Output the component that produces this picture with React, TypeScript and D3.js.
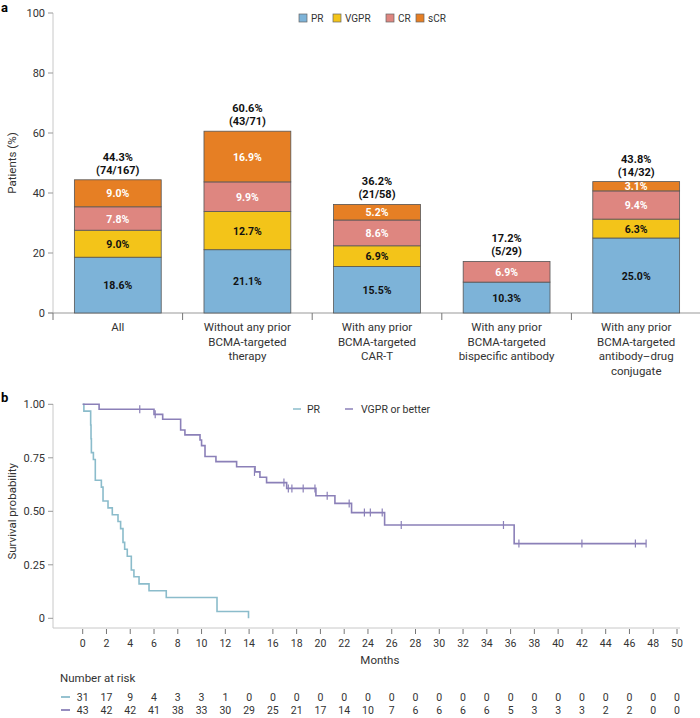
import React from "react";
import * as d3 from "d3";

// ---- panel a data ----
const groups = ["All", "NoPrior", "CART", "Bispecific", "ADC"];
const groupLabels = [
  ["All"],
  ["Without any prior", "BCMA-targeted", "therapy"],
  ["With any prior", "BCMA-targeted", "CAR-T"],
  ["With any prior", "BCMA-targeted", "bispecific antibody"],
  ["With any prior", "BCMA-targeted", "antibody–drug", "conjugate"],
];
const responses = ["PR", "VGPR", "CR", "sCR"];
const prValues = [18.6, 21.1, 15.5, 10.3, 25.0];
const vgprValues = [9.0, 12.7, 6.9, 0, 6.3];
const crValues = [7.8, 9.9, 8.6, 6.9, 9.4];
const scrValues = [9.0, 16.9, 5.2, 0, 3.1];
const totalPct = ["44.3%", "60.6%", "36.2%", "17.2%", "43.8%"];
const totalN = ["(74/167)", "(43/71)", "(21/58)", "(5/29)", "(14/32)"];
const yTicksA = [0, 20, 40, 60, 80, 100];

// ---- panel b data (time in months, survival after step) ----
const prSteps: [number, number][] = [
  [0, 1.0], [0.1, 0.968], [0.67, 0.903], [0.7, 0.839], [0.73, 0.774],
  [0.9, 0.742], [1.06, 0.645], [1.57, 0.613], [1.71, 0.548], [2.13, 0.516],
  [2.49, 0.484], [2.97, 0.452], [3.19, 0.419], [3.39, 0.355], [3.53, 0.323],
  [3.75, 0.29], [4.09, 0.226], [4.31, 0.194], [4.74, 0.161], [5.58, 0.129],
  [7.03, 0.097], [11.3, 0.032], [13.95, 0],
];
const vgprSteps: [number, number][] = [
  [0, 1.0], [1.38, 0.977], [6.0, 0.953], [6.73, 0.93], [8.24, 0.88],
  [8.6, 0.857], [9.87, 0.833], [10.0, 0.807], [10.29, 0.756], [11.21, 0.732],
  [12.95, 0.708], [14.5, 0.684], [14.91, 0.659], [15.47, 0.634], [17.16, 0.607],
  [19.62, 0.573], [21.22, 0.537], [22.62, 0.494], [25.4, 0.436], [36.3, 0.349],
  [47.4, 0.349],
];
const vgprCensored: [number, number][] = [
  [4.8, 0.977], [6.1, 0.953], [14.45, 0.684], [16.93, 0.634], [17.3, 0.607],
  [17.6, 0.607], [18.55, 0.607], [19.54, 0.607], [20.57, 0.573], [22.42, 0.537],
  [23.7, 0.494], [24.2, 0.494], [25.2, 0.494], [26.8, 0.436], [35.4, 0.436],
  [36.7, 0.349], [42.0, 0.349], [46.5, 0.349], [47.4, 0.349],
];
const monthTicks = d3.range(0, 51, 2);
const yTicksB = [0, 0.25, 0.5, 0.75, 1.0];
const riskPR = [31, 17, 9, 4, 3, 3, 1, 0, 0, 0, 0, 0, 0, 0, 0, 0, 0, 0, 0, 0, 0, 0, 0, 0, 0, 0];
const riskVGPR = [43, 42, 42, 41, 38, 33, 30, 29, 25, 21, 17, 14, 10, 7, 6, 6, 6, 6, 5, 3, 3, 3, 2, 2, 0, 0];

const barColors = ["#7db3d8", "#f3c419", "#de8680", "#e67f24"];
const labelColors = ["#111", "#111", "#fff", "#fff"];
const prColor = "#8bbccb";
const vgprColor = "#8b80b8";
const font = "Roboto, 'Noto Sans', sans-serif";
const axisGrey = "#c8c8c8";
const textGrey = "#333";

export default function App() {
  // panel a scales
  const x = d3.scaleBand().domain(groups).range([53, 701]).paddingInner(0.33).paddingOuter(0.165);
  const y = d3.scaleLinear().domain([0, 100]).range([313, 13]);
  const rows = groups.map((g, i) => ({
    group: g,
    PR: prValues[i],
    VGPR: vgprValues[i],
    CR: crValues[i],
    sCR: scrValues[i],
  }));
  const stacked = d3.stack<any>().keys(responses)(rows);
  const step = x.step();
  const boundary = (i: number) => (x(groups[i]) as number) - (step * 0.33) / 2;

  // panel b scales
  const xm = d3.scaleLinear().domain([0, 50]).range([82.7, 677]);
  const ys = d3.scaleLinear().domain([0, 1]).range([618.3, 404.3]);
  const km = d3
    .line<[number, number]>()
    .x(d => xm(d[0]))
    .y(d => ys(d[1]))
    .curve(d3.curveStepAfter);

  return (
    <svg
      width={700}
      height={718}
      style={{ position: "absolute", left: 0, top: 0, fontFamily: font }}
    >
      <rect width={700} height={718} fill="#fff" />
      {/* ---------- panel a ---------- */}
      <text x={1} y={12} fontSize={13} fontWeight={700} fill="#000">a</text>
      <line x1={53} x2={53} y1={13} y2={313} stroke={axisGrey} />
      {yTicksA.map(t => (
        <g key={t}>
          <line x1={48} x2={53} y1={y(t)} y2={y(t)} stroke="#999" />
          <text x={45} y={y(t) + 4} fontSize={11} textAnchor="end" fill={textGrey}>{t}</text>
        </g>
      ))}
      <text
        transform={`translate(16, ${y(50)}) rotate(-90)`}
        fontSize={11.5}
        textAnchor="middle"
        fill={textGrey}
      >
        Patients (%)
      </text>
      <line x1={48} x2={701} y1={313} y2={313} stroke="#999" />
      {groups.map((g, i) => (
        <line key={g} x1={boundary(i)} x2={boundary(i)} y1={313} y2={320} stroke="#777" />
      ))}

      {stacked.map((layer, li) => (
        <g key={layer.key}>
          {layer.map((d, i) => {
            const h = y(d[0]) - y(d[1]);
            if (h <= 0) return null;
            const val = d[1] - d[0];
            return (
              <g key={i}>
                <rect
                  x={x(groups[i])}
                  y={y(d[1])}
                  width={x.bandwidth()}
                  height={h}
                  fill={barColors[li]}
                  stroke="#555"
                  strokeWidth={0.8}
                />
                <text
                  x={(x(groups[i]) as number) + x.bandwidth() / 2}
                  y={(y(d[0]) + y(d[1])) / 2 + 4}
                  fontSize={10.5}
                  fontWeight={700}
                  textAnchor="middle"
                  fill={labelColors[li]}
                >
                  {val.toFixed(1)}%
                </text>
              </g>
            );
          })}
        </g>
      ))}

      {groups.map((g, i) => {
        const cx = (x(g) as number) + x.bandwidth() / 2;
        const top = y(stacked[3][i][1]);
        return (
          <g key={g}>
            <text x={cx} y={top - 19} fontSize={11} fontWeight={700} textAnchor="middle" fill="#111">
              {totalPct[i]}
            </text>
            <text x={cx} y={top - 6} fontSize={11} fontWeight={700} textAnchor="middle" fill="#111">
              {totalN[i]}
            </text>
            {groupLabels[i].map((line, li) => (
              <text
                key={li}
                x={cx}
                y={331 + li * 14.5}
                fontSize={11.5}
                textAnchor="middle"
                fill={textGrey}
              >
                {line}
              </text>
            ))}
          </g>
        );
      })}

      {/* legend a */}
      {responses.map((r, i) => {
        const lx = [299, 333, 386, 416][i];
        return (
          <g key={r}>
            <rect x={lx} y={14} width={8} height={8} fill={barColors[i]} stroke="#666" strokeWidth={0.7} />
            <text x={lx + 12} y={21.5} fontSize={10} fill={textGrey}>{r}</text>
          </g>
        );
      })}

      {/* ---------- panel b ---------- */}
      <text x={1} y={402} fontSize={13} fontWeight={700} fill="#000">b</text>
      <line x1={53} x2={53} y1={404} y2={628} stroke={axisGrey} />
      {yTicksB.map(t => (
        <g key={t}>
          <line x1={48} x2={53} y1={ys(t)} y2={ys(t)} stroke="#999" />
          <text x={45} y={ys(t) + 4} fontSize={11} textAnchor="end" fill={textGrey}>
            {t === 0 ? "0" : t.toFixed(2)}
          </text>
        </g>
      ))}
      <text
        transform={`translate(16, ${ys(0.5)}) rotate(-90)`}
        fontSize={11.5}
        textAnchor="middle"
        fill={textGrey}
      >
        Survival probability
      </text>
      <line x1={53} x2={680} y1={628} y2={628} stroke={axisGrey} />
      {monthTicks.map(t => (
        <g key={t}>
          <line x1={xm(t)} x2={xm(t)} y1={629} y2={634} stroke="#777" />
          <text x={xm(t)} y={647} fontSize={10.5} textAnchor="middle" fill={textGrey}>{t}</text>
        </g>
      ))}
      <text x={xm(25)} y={664} fontSize={11.5} textAnchor="middle" fill={textGrey}>Months</text>

      <path d={km(prSteps) ?? ""} fill="none" stroke={prColor} strokeWidth={1.6} />
      <path d={km(vgprSteps) ?? ""} fill="none" stroke={vgprColor} strokeWidth={1.6} />
      {vgprCensored.map((c, i) => (
        <line
          key={i}
          x1={xm(c[0])}
          x2={xm(c[0])}
          y1={ys(c[1]) - 4}
          y2={ys(c[1]) + 4}
          stroke={vgprColor}
          strokeWidth={1.2}
        />
      ))}

      {/* legend b */}
      <line x1={293} x2={301} y1={409} y2={409} stroke={prColor} strokeWidth={1.5} />
      <text x={307} y={413} fontSize={10.5} fill={textGrey}>PR</text>
      <line x1={345} x2={353} y1={409} y2={409} stroke={vgprColor} strokeWidth={1.5} />
      <text x={361} y={413} fontSize={10.5} fill={textGrey}>VGPR or better</text>

      {/* number at risk */}
      <text x={60} y={682} fontSize={11.5} fill={textGrey}>Number at risk</text>
      {[riskPR, riskVGPR].map((row, ri) => {
        const ry = ri === 0 ? 701 : 714;
        return (
          <g key={ri}>
            <line x1={61} x2={70} y1={ry - 4} y2={ry - 4} stroke={ri === 0 ? prColor : vgprColor} strokeWidth={1.8} />
            {row.map((v, i) => (
              <text key={i} x={xm(monthTicks[i])} y={ry} fontSize={10.5} textAnchor="middle" fill={textGrey}>
                {v}
              </text>
            ))}
          </g>
        );
      })}
    </svg>
  );
}
